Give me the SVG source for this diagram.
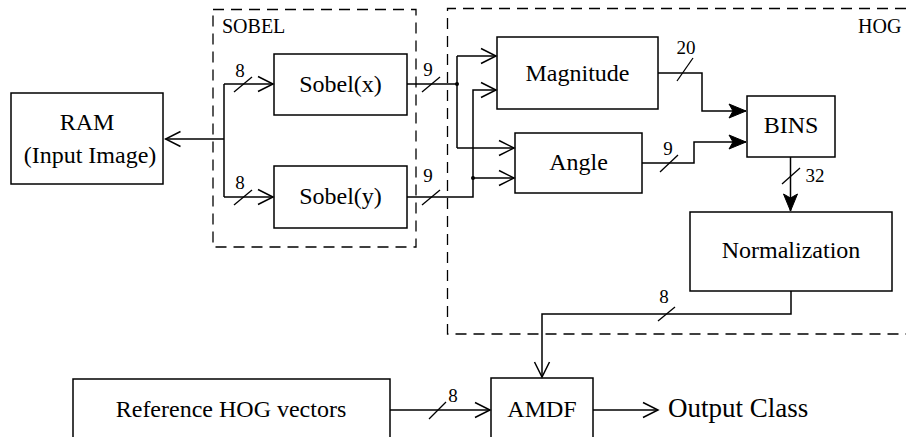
<svg xmlns="http://www.w3.org/2000/svg" width="906" height="437" viewBox="0 0 906 437" font-family="'Liberation Serif', serif">
<style>
.box{fill:#fff;stroke:#000;stroke-width:1.5}
.grp{fill:none;stroke:#000;stroke-width:1.3;stroke-dasharray:11 7}
.ln{fill:none;stroke:#000;stroke-width:1.5}
</style>
<defs>
<marker id="open" markerUnits="userSpaceOnUse" viewBox="-18 -10 20 20" refX="0" refY="0" markerWidth="20" markerHeight="20" orient="auto">
<path d="M-15,-7.5 L0,0 L-15,7.5" fill="none" stroke="#000" stroke-width="1.5"/>
</marker>
<marker id="fill" markerUnits="userSpaceOnUse" viewBox="-20 -10 22 20" refX="0" refY="0" markerWidth="22" markerHeight="20" orient="auto">
<path d="M-17,-7 L0,0 L-17,7 L-13,0 Z" fill="#000" stroke="#000" stroke-width="1"/>
</marker>
</defs>

<g id="sobel-group" font-family="'Liberation Serif', serif" font-size="20">
<rect class="grp" x="213" y="9.5" width="203" height="237.5"/>
<text x="222" y="33">SOBEL</text>
</g>
<g id="hog-group" font-family="'Liberation Serif', serif" font-size="20">
<path class="grp" d="M906,8.5 H447.5 V334 H906"/>
<text x="858" y="33">HOG</text>
</g>

<g id="ram" font-family="'Liberation Serif', serif" font-size="24" text-anchor="middle">
<rect class="box" x="11" y="93" width="152" height="91"/>
<text x="87" y="130">RAM</text>
<text x="90" y="163">(Input Image)</text>
</g>
<g id="sobel-x" font-family="'Liberation Serif', serif" font-size="24" text-anchor="middle">
<rect class="box" x="274" y="54" width="133" height="61"/>
<text x="340.5" y="92">Sobel(x)</text>
</g>
<g id="sobel-y" font-family="'Liberation Serif', serif" font-size="24" text-anchor="middle">
<rect class="box" x="274" y="166" width="133" height="62"/>
<text x="340.5" y="204">Sobel(y)</text>
</g>
<g id="magnitude" font-family="'Liberation Serif', serif" font-size="24" text-anchor="middle">
<rect class="box" x="497" y="37" width="161" height="72"/>
<text x="577.5" y="80.5">Magnitude</text>
</g>
<g id="angle" font-family="'Liberation Serif', serif" font-size="24" text-anchor="middle">
<rect class="box" x="515" y="133" width="127" height="60"/>
<text x="578.5" y="170">Angle</text>
</g>
<g id="bins" font-family="'Liberation Serif', serif" font-size="24" text-anchor="middle">
<rect class="box" x="747" y="96" width="88" height="61"/>
<text x="791" y="133">BINS</text>
</g>
<g id="normalization" font-family="'Liberation Serif', serif" font-size="24" text-anchor="middle">
<rect class="box" x="690" y="212" width="202" height="79"/>
<text x="791" y="258">Normalization</text>
</g>
<g id="reference" font-family="'Liberation Serif', serif" font-size="24" text-anchor="middle">
<rect class="box" x="73" y="379" width="317" height="70"/>
<text x="231" y="417">Reference HOG vectors</text>
</g>
<g id="amdf" font-family="'Liberation Serif', serif" font-size="24" text-anchor="middle">
<rect class="box" x="491" y="378" width="102" height="70"/>
<text x="542" y="417">AMDF</text>
</g>
<g id="output-class" font-family="'Liberation Serif', serif" font-size="27">
<text x="668" y="417">Output Class</text>
</g>

<g id="connectors">
<path class="ln" d="M224,84 V197"/>
<path class="ln" d="M224,139 H165.5" marker-end="url(#open)"/>
<path class="ln" d="M224,84 H273" marker-end="url(#open)"/>
<path class="ln" d="M224,197 H273" marker-end="url(#open)"/>
<path class="ln" d="M407,84 H457"/>
<path class="ln" d="M457,56 V148"/>
<path class="ln" d="M457,56 H496" marker-end="url(#open)"/>
<path class="ln" d="M457,148 H514" marker-end="url(#open)"/>
<circle cx="457" cy="84" r="2"/>
<path class="ln" d="M407,197 H473 V90 H496" marker-end="url(#open)"/>
<path class="ln" d="M473,178 H514" marker-end="url(#open)"/>
<circle cx="473" cy="178" r="2"/>
<path class="ln" d="M658,73 H702 V111 H746" marker-end="url(#fill)"/>
<path class="ln" d="M642,163 H694 V142 H746" marker-end="url(#fill)"/>
<path class="ln" d="M790.5,157 V211" marker-end="url(#fill)"/>
<path class="ln" d="M791,291 V314 H542 V377" marker-end="url(#open)"/>
<path class="ln" d="M390,410 H490" marker-end="url(#open)"/>
<path class="ln" d="M593,410 H658" marker-end="url(#open)"/>
<g fill="none" stroke="#000" stroke-width="1.3">
<path d="M234,92 L252,77"/>
<path d="M234,205 L252,190"/>
<path d="M422,92 L440,77"/>
<path d="M422,205 L440,190"/>
<path d="M677,81 L693,58"/>
<path d="M660,172 L678,155"/>
<path d="M782,184 L800,168"/>
<path d="M658,321 L675,307"/>
<path d="M429,419 L446,402"/>
</g>
<g font-family="'Liberation Serif', serif" font-size="19" text-anchor="middle">
<text x="240" y="77">8</text>
<text x="240" y="189">8</text>
<text x="428" y="76">9</text>
<text x="428" y="182">9</text>
<text x="686" y="54">20</text>
<text x="668" y="155">9</text>
<text x="815" y="182">32</text>
<text x="664" y="303">8</text>
<text x="453" y="402">8</text>
</g>
</g>
</svg>
